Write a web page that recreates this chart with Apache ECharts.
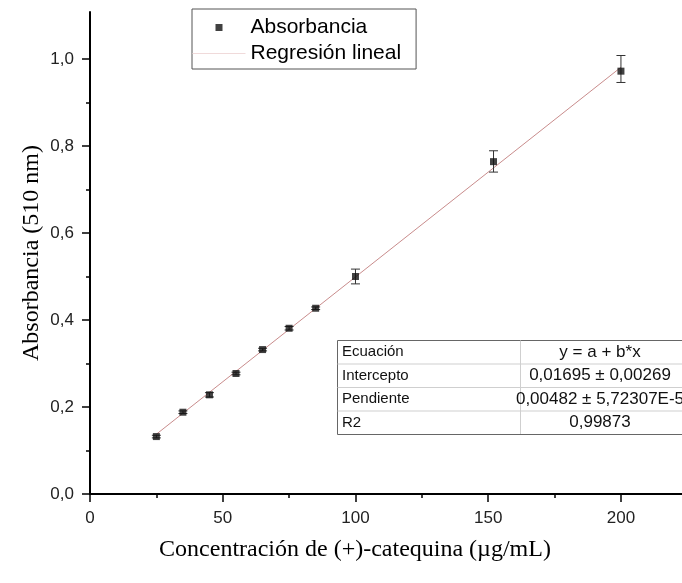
<!DOCTYPE html>
<html>
<head>
<meta charset="utf-8">
<script src="https://cdn.jsdelivr.net/npm/echarts@6/dist/echarts.min.js"></script>
<style>
  html, body { margin: 0; padding: 0; background: #fff; }
  #chart { width: 682px; height: 583px; }
</style>
</head>
<body>
<div id="chart"></div>
<script>
// Calibration curve: (+)-catechin concentration (µg/mL) vs absorbance at 510 nm
const concentration = [25, 35, 45, 55, 65, 75, 85, 100, 152, 200];
const absorbance    = [0.132, 0.188, 0.228, 0.277, 0.332, 0.381, 0.427, 0.500, 0.764, 0.972];
const errLow        = [0.129, 0.185, 0.223, 0.274, 0.329, 0.377, 0.424, 0.483, 0.740, 0.946];
const errHigh       = [0.135, 0.191, 0.233, 0.280, 0.335, 0.385, 0.430, 0.517, 0.789, 1.008];

// Linear regression parameters
const intercept = 0.01695;
const slope = 0.00482;
const fitRange = [25, 200];

// Axis ticks
const xMajorTicks = [0, 50, 100, 150, 200];
const xMinorTicks = [25, 75, 125, 175];
const yMajorTicks = [0, 0.2, 0.4, 0.6, 0.8, 1.0];
const yMinorTicks = [0.1, 0.3, 0.5, 0.7, 0.9];

// Fit summary table
const tableLabels = ['Ecuación', 'Intercepto', 'Pendiente', 'R2'];
const tableValues = ['y = a + b*x', '0,01695 ± 0,00269', '0,00482 ± 5,72307E-5', '0,99873'];

const SANS = '"Liberation Sans", Arial, sans-serif';
const SERIF = '"Liberation Serif", "Times New Roman", serif';

const fitLine = fitRange.map(x => [x, intercept + slope * x]);
const points = concentration.map((x, i) => [x, absorbance[i]]);
const bars = concentration.map((x, i) => [x, errLow[i], errHigh[i]]);

const X_MAX = 223, Y_MAX = 1.108;

function tableGraphic() {
  const rowH = 23.5, colW = 183, width = 360, height = rowH * tableLabels.length;
  const children = [
    { type: 'rect', shape: { x: 0.5, y: 0.5, width: width, height: height },
      style: { fill: '#fff', stroke: '#666', lineWidth: 1 } },
    { type: 'line', shape: { x1: colW + 0.5, y1: 0.5, x2: colW + 0.5, y2: height },
      style: { stroke: '#cfcfcf', lineWidth: 1 } }
  ];
  for (let i = 1; i < tableLabels.length; i++) {
    children.push({ type: 'line', shape: { x1: 0.5, y1: i * rowH + 0.5, x2: width, y2: i * rowH + 0.5 },
      style: { stroke: '#cfcfcf', lineWidth: 1 } });
  }
  tableLabels.forEach((t, i) => {
    children.push({ type: 'text', x: 5, y: (i + 0.5) * rowH + 0.5,
      style: { text: t, font: '15px ' + SANS, fill: '#111', align: 'left', verticalAlign: 'middle' } });
  });
  tableValues.forEach((t, i) => {
    children.push({ type: 'text', x: 263, y: (i + 0.5) * rowH + 0.5,
      style: { text: t, font: '17px ' + SANS, fill: '#111', align: 'center', verticalAlign: 'middle' } });
  });
  return { type: 'group', x: 337, y: 340, children: children };
}

const chart = echarts.init(document.getElementById('chart'), null, { renderer: 'canvas' });

const axisLineStyle = { color: '#000', width: 2 };
const tickStyle = { color: '#000', width: 1.5 };

chart.setOption({
  animation: false,
  backgroundColor: '#fff',
  grid: { left: 90, right: 0, top: 12, bottom: 89, outerBoundsMode: 'none' },
  legend: {
    orient: 'vertical', left: 192, top: 9,
    padding: [8, 15, 5, 0], itemGap: 5, itemWidth: 53, itemHeight: 7,
    borderColor: '#555', borderWidth: 1,
    textStyle: { fontFamily: SANS, fontSize: 21, color: '#000' },
    data: [
      { name: 'Absorbancia', icon: 'path://M0,0L10,0L10,10L0,10Z' },
      { name: 'Regresión lineal', lineStyle: { color: '#f0dada', width: 1 }, itemStyle: { opacity: 0 } }
    ]
  },
  xAxis: [
    {
      type: 'value', min: 0, max: X_MAX, position: 'bottom',
      name: 'Concentración de (+)-catequina (µg/mL)',
      nameLocation: 'middle', nameGap: 44, nameMoveOverlap: false,
      nameTextStyle: { fontFamily: SERIF, fontSize: 24, color: '#000', padding: [0, 62, 0, 0] },
      axisLine: { show: true, onZero: false, lineStyle: axisLineStyle },
      axisTick: { show: true, customValues: xMajorTicks, length: 8, lineStyle: tickStyle },
      axisLabel: { customValues: xMajorTicks, fontFamily: SANS, fontSize: 17, color: '#222', margin: 16 },
      splitLine: { show: false }
    },
    {
      type: 'value', min: 0, max: X_MAX, position: 'bottom',
      axisLine: { show: false, onZero: false },
      axisTick: { show: true, customValues: xMinorTicks, length: 4, lineStyle: tickStyle },
      axisLabel: { show: false },
      splitLine: { show: false }
    }
  ],
  yAxis: [
    {
      type: 'value', min: 0, max: Y_MAX, position: 'left',
      name: 'Absorbancia (510 nm)',
      nameLocation: 'middle', nameRotate: 90, nameGap: 46, nameMoveOverlap: false,
      nameTextStyle: { fontFamily: SERIF, fontSize: 24, color: '#000' },
      axisLine: { show: true, onZero: false, lineStyle: axisLineStyle },
      axisTick: { show: true, customValues: yMajorTicks, length: 8, lineStyle: tickStyle },
      axisLabel: {
        customValues: yMajorTicks, fontFamily: SANS, fontSize: 17, color: '#222', margin: 16,
        formatter: v => v.toFixed(1).replace('.', ',')
      },
      splitLine: { show: false }
    },
    {
      type: 'value', min: 0, max: Y_MAX, position: 'left',
      axisLine: { show: false, onZero: false },
      axisTick: { show: true, customValues: yMinorTicks, length: 4, lineStyle: tickStyle },
      axisLabel: { show: false },
      splitLine: { show: false }
    }
  ],
  series: [
    {
      name: 'Regresión lineal', type: 'line', data: fitLine,
      xAxisIndex: 0, yAxisIndex: 0,
      symbol: 'none', lineStyle: { color: '#c98c8c', width: 1 },
      itemStyle: { color: '#c98c8c' }, z: 1
    },
    {
      name: 'Error', type: 'custom', data: bars,
      xAxisIndex: 0, yAxisIndex: 0,
      encode: { x: 0, y: [1, 2] }, z: 2,
      renderItem: (params, api) => {
        const x = api.value(0);
        const lo = api.coord([x, api.value(1)]);
        const hi = api.coord([x, api.value(2)]);
        const half = 4.5;
        const style = { stroke: '#333', lineWidth: 1 };
        return {
          type: 'group',
          children: [
            { type: 'line', shape: { x1: lo[0], y1: lo[1], x2: hi[0], y2: hi[1] }, style: style },
            { type: 'line', shape: { x1: lo[0] - half, y1: lo[1], x2: lo[0] + half, y2: lo[1] }, style: style },
            { type: 'line', shape: { x1: hi[0] - half, y1: hi[1], x2: hi[0] + half, y2: hi[1] }, style: style }
          ]
        };
      }
    },
    {
      name: 'Absorbancia', type: 'scatter', data: points,
      xAxisIndex: 0, yAxisIndex: 0,
      symbol: 'rect', symbolSize: 7,
      itemStyle: { color: '#111' }, z: 3
    }
  ],
  graphic: [tableGraphic()]
});
</script>
</body>
</html>
